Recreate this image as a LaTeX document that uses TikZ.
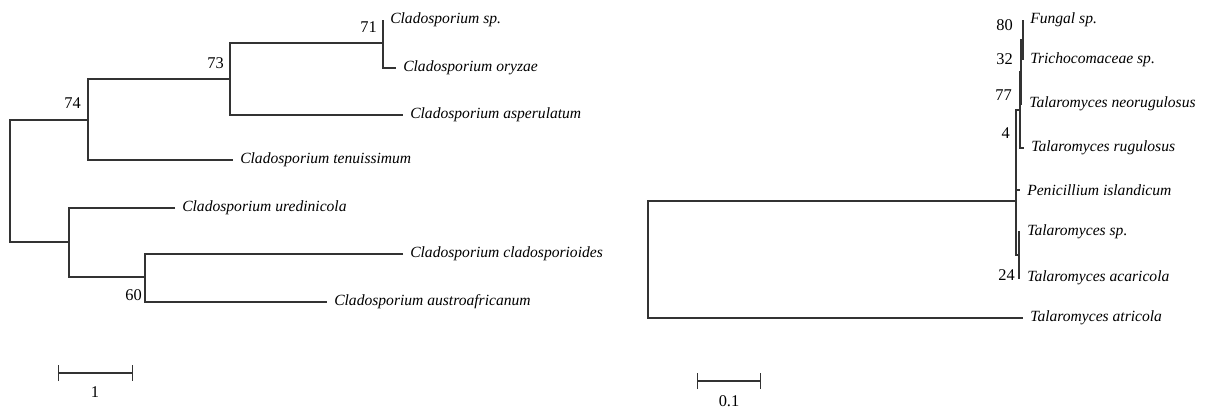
\documentclass[tikz,border=0pt]{standalone}
\usepackage{fontspec}
\setmainfont{Liberation Serif}
\usetikzlibrary{arrows.meta}
\begin{document}
\begin{tikzpicture}[x=0.03cm, y=-0.03cm,
    rama/.style={line width=1pt, black!80},
    hoja/.style={anchor=west, inner xsep=6pt, inner ysep=0pt, font=\fontsize{13.3}{15}\selectfont\itshape},
    boot/.style={anchor=east, inner sep=0pt, font=\fontsize{14}{16}\selectfont},
    escala/.style={rama, {Bar[width=0.48cm]}-{Bar[width=0.48cm]}}]
    \useasboundingbox (0,0) rectangle (1229,410);

    % Arbol de la izquierda (Cladosporium)
    \coordinate (r1) at (10,181);
    \coordinate (n74) at (88,120);
    \coordinate (n73) at (230,79);
    \coordinate (n71) at (383,43);
    \coordinate (nB) at (69,242);
    \coordinate (n60) at (145,277);

    % Hojas del arbol de la izquierda
    \node[hoja] (csp) at (383,20) {Cladosporium sp.};
    \node[hoja] (ory) at (396,68) {Cladosporium oryzae};
    \node[hoja] (asp) at (403,115) {Cladosporium asperulatum};
    \node[hoja] (ten) at (233,160) {Cladosporium tenuissimum};
    \node[hoja] (ure) at (175,208) {Cladosporium uredinicola};
    \node[hoja] (cla) at (403,254) {Cladosporium cladosporioides};
    \node[hoja] (aus) at (327,302) {Cladosporium austroafricanum};

    % Ramas
    \draw[rama] (csp.west) -| (n71) |- (ory.west);
    \draw[rama] (n71) -| (n73) |- (asp.west);
    \draw[rama] (n73) -| (n74) |- (ten.west);
    \draw[rama] (n74) -| (r1) |- (nB);
    \draw[rama] (ure.west) -| (nB) |- (n60);
    \draw[rama] (cla.west) -| (n60) |- (aus.west);

    % Valores de bootstrap
    \node[boot] (b71) at (377,27) {71};
    \node[boot] (b73) at (224,63) {73};
    \node[boot] (b74) at (81,103) {74};
    \node[boot] (b60) at (142,295) {60};

    % Barra de escala
    \coordinate (eA) at (58,373);
    \coordinate (eB) at (133,373);
    \draw[escala] (eA) -- (eB);
    \node[boot, anchor=center] (e1) at (95,392) {1};

    % Arbol de la derecha (Talaromyces)
    \coordinate (rR) at (648,260);
    \coordinate (nP) at (1016,201);
    \coordinate (n4) at (1016,150);
    \coordinate (n77) at (1020,110);
    \coordinate (n32) at (1021,72);
    \coordinate (n80) at (1023,40);
    \coordinate (nY) at (1019,255);

    % Hojas del arbol de la derecha
    \node[hoja] (fun) at (1023,20) {Fungal sp.};
    \node[hoja] (tri) at (1023,60) {Trichocomaceae sp.};
    \node[hoja] (neo) at (1022,104) {Talaromyces neorugulosus};
    \node[hoja] (rug) at (1024,148) {Talaromyces rugulosus};
    \node[hoja] (pen) at (1020,190) {Penicillium islandicum};
    \node[hoja] (tsp) at (1020,232) {Talaromyces sp.};
    \node[hoja] (aca) at (1020,278) {Talaromyces acaricola};
    \node[hoja] (atr) at (1023,318) {Talaromyces atricola};

    % Ramas
    \draw[rama] (fun.west) -| (n80) |- (tri.west);
    \draw[rama] (n80) -| (n32) |- (neo.west);
    \draw[rama] (n32) -| (n77) |- (rug.west);
    \draw[rama] (n77) -| (n4) |- (pen.west);
    \draw[rama] (n4) -| (nP) |- (nY);
    \draw[rama] (tsp.west) -| (nY) |- (aca.west);
    \draw[rama] (nP) -| (rR) |- (atr.west);

    % Valores de bootstrap
    \node[boot] (b80) at (1013,25) {80};
    \node[boot] (b32) at (1013,59) {32};
    \node[boot] (b77) at (1012,95) {77};
    \node[boot] (b4) at (1010,133) {4};
    \node[boot] (b24) at (1015,275) {24};

    % Barra de escala
    \coordinate (fA) at (697,381);
    \coordinate (fB) at (761,381);
    \draw[escala] (fA) -- (fB);
    \node[boot, anchor=center] (e01) at (729,401) {0.1};

\end{tikzpicture}
\end{document}
